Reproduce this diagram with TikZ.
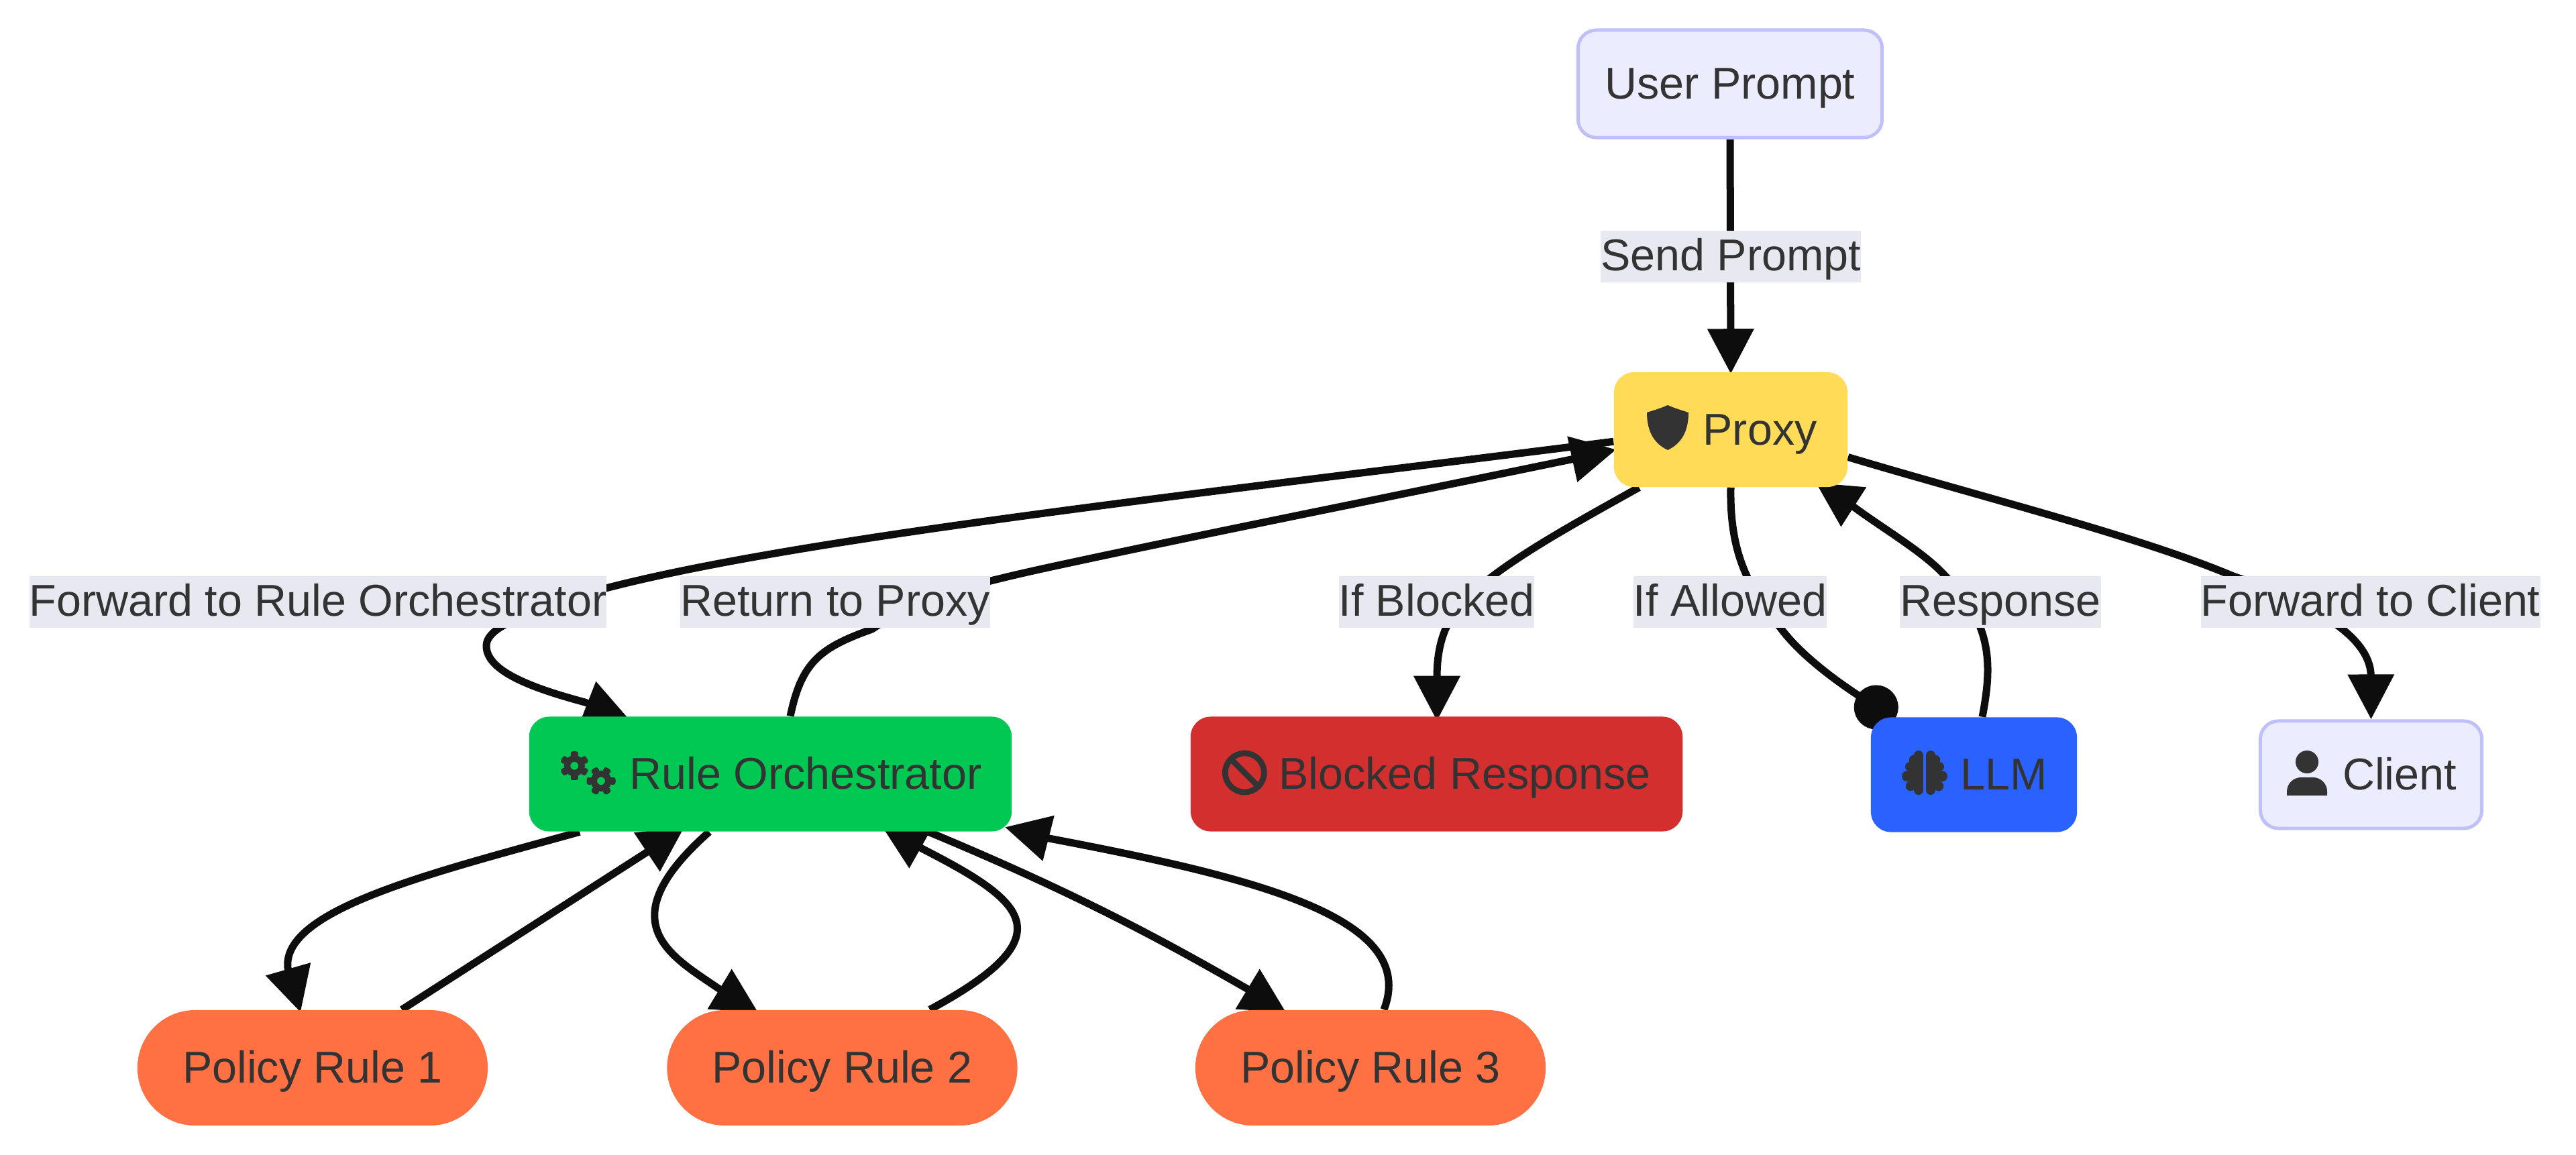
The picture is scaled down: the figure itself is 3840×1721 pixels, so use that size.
\documentclass[tikz,border=0pt]{standalone}
\usepackage{fontspec}
\setmainfont{Liberation Sans}
\usetikzlibrary{arrows.meta,backgrounds}

\definecolor{inktext}{HTML}{333333}
\definecolor{inkedge}{HTML}{0D0D0D}
\definecolor{plainfill}{HTML}{ECECFF}
\definecolor{plainline}{HTML}{BFBFFA}
\definecolor{labelfill}{HTML}{E8E8F0}
\definecolor{proxyfill}{HTML}{FFDB58}
\definecolor{orchfill}{HTML}{00C853}
\definecolor{blockfill}{HTML}{D32F2F}
\definecolor{llmfill}{HTML}{2962FF}
\definecolor{rulefill}{HTML}{FF7043}

\newcommand{\diagfont}{\fontsize{18.9pt}{22pt}\selectfont}
% one gear: centre x, centre y, turn
\newcommand{\gearicon}[3]{
  \fill[inktext, even odd rule] (#1,#2) circle (.155cm) (#1,#2) circle (.06cm);
  \foreach \ang in {0,60,...,300}
    \fill[inktext, rotate around={\ang+#3:(#1,#2)}, rounded corners=.03cm] (#1-5.5,#2-21.5) rectangle (#1+5.5,#2-13);
}

\tikzset{
  boxnode/.style={rectangle, inner sep=0pt, rounded corners=.3cm, text=inktext, font=\diagfont,
    text height=1.08cm, text depth=.63cm},
  plainnode/.style={boxnode, draw=plainline, fill=plainfill, line width=.05cm, rounded corners=.27cm,
    text height=1.02cm, text depth=.58cm},
  rulenode/.style={boxnode, fill=rulefill, rounded corners=.86cm, text height=1.08cm, text depth=.64cm},
  edgelabel/.style={fill=labelfill, inner sep=0pt, text=inktext, font=\diagfont,
    text height=.59cm, text depth=.18cm},
  flow/.style={draw=inkedge, line width=.11cm, -{Triangle[length=.67cm,width=.67cm]}},
  flowdot/.style={draw=inkedge, line width=.11cm, -{Circle[length=.66cm]}},
}

\begin{document}
\begin{tikzpicture}[x=.01cm, y=-.01cm]
  \useasboundingbox (0,0) rectangle (3840,1721);

  % boxes
  \node[plainnode, minimum width=4.53cm] (user) at (2579,125) {User Prompt};
  \node[boxnode, fill=proxyfill, minimum width=3.48cm] (proxy) at (2580,640.5) {\hspace*{.87cm}Proxy};
  \node[boxnode, fill=orchfill, minimum width=7.19cm] (orch) at (1148.5,1154) {\hspace*{1.05cm}Rule Orchestrator};
  \node[boxnode, fill=blockfill, minimum width=7.33cm] (block) at (2141.5,1154) {\hspace*{.84cm}Blocked Response};
  \node[boxnode, fill=llmfill, minimum width=3.07cm] (llm) at (2942.5,1155) {\hspace*{.89cm}LLM};
  \node[plainnode, minimum width=3.30cm] (client) at (3534.5,1155) {\hspace*{.85cm}Client};
  \node[rulenode, minimum width=5.22cm] (ruleA) at (466,1592) {Policy Rule 1};
  \node[rulenode, minimum width=5.22cm] (ruleB) at (1255.5,1592) {Policy Rule 2};
  \node[rulenode, minimum width=5.22cm] (ruleC) at (2043,1592) {Policy Rule 3};

  % labels
  \node[edgelabel] (lsend) at (2580,382.5) {Send Prompt};
  \node[edgelabel] (lforward) at (474,897.5) {Forward to Rule Orchestrator};
  \node[edgelabel] (lreturn) at (1245,897.5) {Return to Proxy};
  \node[edgelabel] (lblocked) at (2141.5,897.5) {If Blocked};
  \node[edgelabel] (lallowed) at (2579,897.5) {If Allowed};
  \node[edgelabel] (lresponse) at (2982,897.5) {Response};
  \node[edgelabel] (lclient) at (3533.5,897.5) {Forward to Client};

  % connectors, under the boxes
  \begin{scope}[on background layer]
    \draw[flow] (user.south) -- ([shift={(0,3)}]proxy.north);
    \draw[flow] ([shift={(0,104)}]proxy.north west) .. controls (1800,735) and (1200,800) .. (903,877)
      .. controls (830,905) and (725,925) .. (725,963)
      .. controls (725,1000) and (790,1025) .. (872,1047) -- ([shift={(150,5)}]orch.north west);
    \draw[flow] ([shift={(390,0)}]orch.north west) .. controls (1195,985) and (1225,965) .. (1300,938)
      .. controls (1370,890) and (1450,870) .. (1600,838)
      .. controls (1800,795) and (2100,735) .. (2342,685) -- ([shift={(4,116)}]proxy.north west);
    \draw[flow] ([shift={(38,0)}]proxy.south west) .. controls (2330,790) and (2220,850) .. (2175,905)
      .. controls (2150,935) and (2142,970) .. ([shift={(0.5,7)}]block.north);
    \draw[flowdot] (proxy.south) .. controls (2578,830) and (2610,880) .. (2654,936)
      .. controls (2690,985) and (2760,1030) .. ([shift={(36,4)}]llm.north west);
    \draw[flow] ([shift={(12.5,0)}]llm.north) .. controls (2970,990) and (2970,930) .. (2900,859)
      .. controls (2870,825) and (2810,790) .. (2765,757) -- ([shift={(-48,-7)}]proxy.south east);
    \draw[flow] ([shift={(0,41)}]proxy.east) .. controls (2950,740) and (3190,800) .. (3329,859)
      .. controls (3420,890) and (3534,940) .. (client.north);
    \draw[flow] ([shift={(76,0)}]orch.south west) .. controls (650,1300) and (420,1355) .. (429,1443)
      -- ([shift={(-18,4)}]ruleA.north);
    \draw[flow] ([shift={(133,0)}]ruleA.north) -- (962,1272) -- ([shift={(232,-7)}]orch.south west);
    \draw[flow] ([shift={(269,0)}]orch.south west) .. controls (905,1375) and (1000,1425) .. (1070,1473)
      -- ([shift={(-125.5,4)}]ruleB.north);
    \draw[flow] ([shift={(130.5,0)}]ruleB.north) .. controls (1590,1395) and (1530,1345) .. (1376,1266)
      -- ([shift={(526,-9)}]orch.south west);
    \draw[flow] ([shift={(596,0)}]orch.south west) .. controls (1600,1330) and (1730,1400) .. (1857,1473)
      -- ([shift={(-126,4)}]ruleC.north);
    \draw[flow] ([shift={(20,0)}]ruleC.north) .. controls (2115,1370) and (1880,1310) .. (1564,1250)
      -- ([shift={(710,-7)}]orch.south west);
  \end{scope}

  % icons
  \fill[inktext] (2486,604) .. controls (2497,609) and (2508,612) .. (2517,615)
    .. controls (2517,645) and (2505,662) .. (2486,671)
    .. controls (2467,662) and (2455,645) .. (2455,615)
    .. controls (2464,612) and (2475,609) .. (2486,604) -- cycle;
  \gearicon{856.3}{1141.7}{0}
  \gearicon{896}{1164.3}{30}
  \draw[inktext, line width=.087cm] (1855.3,1152) circle (.29cm);
  \draw[inktext, line width=.087cm] (1834.8,1131.5) -- (1875.8,1172.5);
  \foreach \sgn in {-1,1} {
    \foreach \dx/\dy/\rad in {9/1126/.07, 16/1133/.073, 22/1143/.07, 26/1157.3/.08, 21/1172/.073, 9/1178/.07}
      \fill[inktext] (2869+\sgn*\dx,\dy) circle (\rad cm);
    \fill[inktext] (2869+\sgn*2.2,1126) rectangle (2869+\sgn*16,1178);
    \fill[inktext] (2869+\sgn*10,1140) rectangle (2869+\sgn*22,1172);
  }
  \fill[inktext] (3439,1136) circle (.17cm);
  \fill[inktext] (3409,1186) -- (3409,1180) .. controls (3409,1167) and (3420,1159) .. (3430,1159)
    -- (3448,1159) .. controls (3458,1159) and (3469,1167) .. (3469,1180) -- (3469,1186) -- cycle;
\end{tikzpicture}
\end{document}
